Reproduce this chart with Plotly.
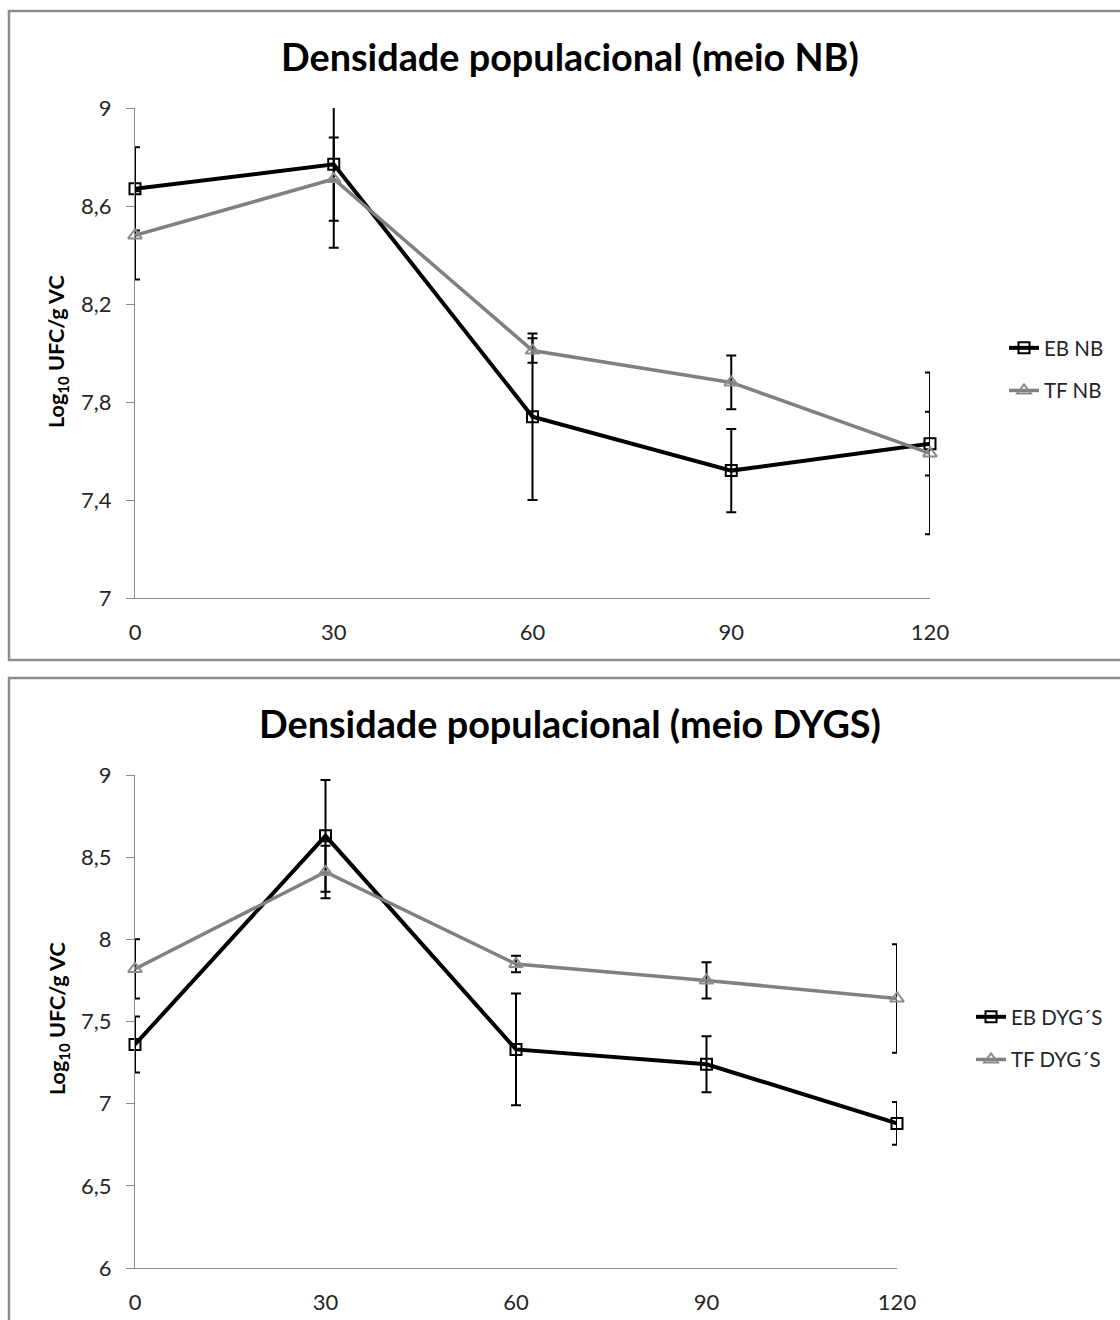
import plotly.graph_objects as go

W, H = 1120, 1320

# ---------------- data ----------------
time_min = [0, 30, 60, 90, 120]
x_tick_labels = ["0", "30", "60", "90", "120"]

eb_nb = [8.67, 8.77, 7.74, 7.52, 7.63]
eb_nb_err = [0.17, 0.34, 0.34, 0.17, 0.13]
tf_nb = [8.48, 8.71, 8.01, 7.88, 7.59]
tf_nb_err = [0.18, 0.17, 0.05, 0.11, 0.33]

eb_dygs = [7.36, 8.63, 7.33, 7.24, 6.88]
eb_dygs_err = [0.17, 0.34, 0.34, 0.17, 0.13]
tf_dygs = [7.82, 8.41, 7.85, 7.75, 7.64]
tf_dygs_err = [0.18, 0.16, 0.05, 0.11, 0.33]

nb_yticks = [7, 7.4, 7.8, 8.2, 8.6, 9]
dygs_yticks = [6, 6.5, 7, 7.5, 8, 8.5, 9]

title_nb = "Densidade populacional (meio NB)"
title_dygs = "Densidade populacional (meio DYGS)"
y_title = "Log<sub>10</sub> UFC/g VC"
names_nb = ["EB NB", "TF NB"]
names_dygs = ["EB DYG\u00b4S", "TF DYG\u00b4S"]

# ---------------- style ----------------
FONT = "Lato, 'Open Sans', sans-serif"
TXT = "#262626"
AXC = "#8c8c8c"
BLACK = "#000000"
GRAY = "#808080"


def px_x(p):
    return p / W


def px_y(p):
    return 1 - p / H


fig = go.Figure()


def add_series(x, y, err, name, color, symbol, lw, msize, xa, ya, legend, yrng, group):
    lo, hi = yrng
    clip_idx = [i for i in range(len(x)) if y[i] + err[i] > hi or y[i] - err[i] < lo]
    free_idx = [i for i in range(len(x)) if i not in clip_idx]
    for idx, clip in ((free_idx, False), (clip_idx, True)):
        if not idx:
            continue
        fig.add_trace(go.Scatter(
            x=[x[i] for i in idx], y=[y[i] for i in idx],
            mode="markers", marker=dict(size=1, color="rgba(0,0,0,0)"),
            error_y=dict(type="data", array=[err[i] for i in idx], visible=True,
                         color=BLACK, thickness=2, width=5),
            xaxis=xa, yaxis=ya, showlegend=False, hoverinfo="skip",
            cliponaxis=clip))
    mcol = "#8c8c8c" if color == GRAY else BLACK
    fig.add_trace(go.Scatter(
        x=x, y=y, name=name, mode="lines+markers",
        line=dict(color=color, width=lw),
        marker=dict(symbol=symbol, size=msize, color=mcol, line=dict(color=mcol, width=2)),
        xaxis=xa, yaxis=ya, legend=legend, legendgroup=group,
        cliponaxis=False))


add_series(time_min, eb_nb, eb_nb_err, names_nb[0], BLACK, "square-open", 4, 11, "x", "y", "legend", (7, 9), "a")
add_series(time_min, tf_nb, tf_nb_err, names_nb[1], GRAY, "triangle-up-open", 3.5, 12, "x", "y", "legend", (7, 9), "b")
add_series(time_min, eb_dygs, eb_dygs_err, names_dygs[0], BLACK, "square-open", 4, 11, "x2", "y2", "legend2", (6, 9), "c")
add_series(time_min, tf_dygs, tf_dygs_err, names_dygs[1], GRAY, "triangle-up-open", 3.5, 12, "x2", "y2", "legend2", (6, 9), "d")

xaxis_common = dict(
    range=[0, 120], tickvals=time_min, ticktext=x_tick_labels,
    showline=True, linecolor=AXC, linewidth=1, ticks="", showgrid=False, zeroline=False,
    tickfont=dict(family=FONT, size=22, color=TXT), ticklabelstandoff=15, automargin=False,
)
yaxis_common = dict(
    showline=True, linecolor=AXC, linewidth=1, ticks="outside", ticklen=8, tickcolor=AXC,
    showgrid=False, zeroline=False, automargin=False,
    tickfont=dict(family=FONT, size=22, color=TXT), ticklabelstandoff=10,
)

legend_common = dict(xanchor="left", yanchor="top",
                     font=dict(family=FONT, size=20.5, color=TXT), traceorder="grouped",
                     tracegroupgap=13, bgcolor="rgba(0,0,0,0)", itemwidth=30)

fig.update_layout(
    width=W, height=H,
    margin=dict(l=0, r=0, t=0, b=0, pad=0, autoexpand=False),
    paper_bgcolor="white", plot_bgcolor="white",
    separators=",.",
    xaxis=dict(domain=[px_x(135), px_x(930)], anchor="y", **xaxis_common),
    yaxis=dict(domain=[px_y(598), px_y(108)], anchor="x", range=[7, 9], tickvals=nb_yticks, **yaxis_common),
    xaxis2=dict(domain=[px_x(135), px_x(897)], anchor="y2", **xaxis_common),
    yaxis2=dict(domain=[px_y(1268), px_y(775)], anchor="x2", range=[6, 9], tickvals=dygs_yticks, **yaxis_common),
    legend=dict(x=px_x(1004), y=px_y(328), **legend_common),
    legend2=dict(x=px_x(971), y=px_y(997), **legend_common),
    showlegend=True,
)

annotations = [
    dict(text=title_nb, x=px_x(570), y=px_y(56), xref="paper", yref="paper",
         showarrow=False, font=dict(family=FONT, size=37.8, color=BLACK, weight="bold"),
         xanchor="center", yanchor="middle"),
    dict(text=title_dygs, x=px_x(570), y=px_y(723), xref="paper", yref="paper",
         showarrow=False, font=dict(family=FONT, size=37.8, color=BLACK, weight="bold"),
         xanchor="center", yanchor="middle"),
    dict(text=y_title, x=px_x(58), y=px_y(352), xref="paper", yref="paper", textangle=-90,
         showarrow=False, font=dict(family=FONT, size=21.5, color=BLACK, weight="bold"),
         xanchor="center", yanchor="middle"),
    dict(text=y_title, x=px_x(58), y=px_y(1019), xref="paper", yref="paper", textangle=-90,
         showarrow=False, font=dict(family=FONT, size=21.5, color=BLACK, weight="bold"),
         xanchor="center", yanchor="middle"),
]
fig.update_layout(annotations=annotations)

shapes = [
    dict(type="rect", xref="paper", yref="paper", x0=px_x(9), x1=px_x(1140), y0=px_y(660), y1=px_y(11),
         line=dict(color="#8c8c8c", width=2.5), fillcolor="rgba(0,0,0,0)", layer="below"),
    dict(type="rect", xref="paper", yref="paper", x0=px_x(9), x1=px_x(1140), y0=px_y(1340), y1=px_y(678),
         line=dict(color="#8c8c8c", width=2.5), fillcolor="rgba(0,0,0,0)", layer="below"),
]
fig.update_layout(shapes=shapes)

fig.write_html(
    "out.html",
    config={"displayModeBar": False},
    post_script="document.body.style.margin='0';document.body.style.padding='0';"
                "document.documentElement.style.overflow='hidden';",
)
